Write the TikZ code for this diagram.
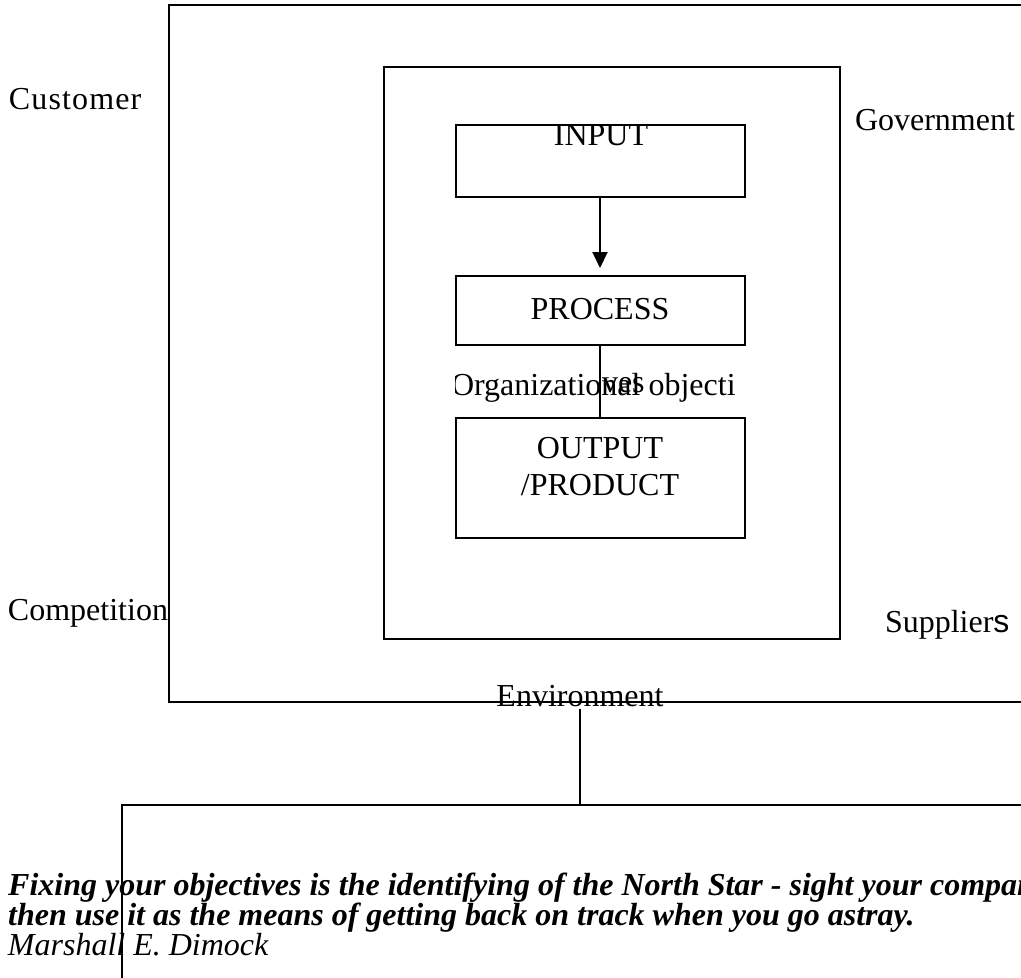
\documentclass[tikz,border=0pt]{standalone}
\usepackage{fontspec}
\setmainfont{Liberation Serif}
\newfontfamily\arialfont{Liberation Sans}
\usetikzlibrary{arrows.meta}
\begin{document}
\begin{tikzpicture}[x=1pt,y=-1pt,
  frame/.style={draw, line width=1.5pt, inner sep=0pt, outer sep=0pt, anchor=north west},
  stepbox/.style={draw, line width=2pt, inner sep=0pt, outer sep=0pt, anchor=north west,
                  minimum width=289pt},
  txt/.style={font=\fontsize{32}{37}\selectfont, inner sep=0pt, outer sep=0pt},
  lbl/.style={txt, anchor=base west},
  quote/.style={font=\fontsize{32}{36}\selectfont\bfseries\itshape, inner sep=0pt, anchor=base west},
  link/.style={line width=2pt},
]
\path[use as bounding box, clip] (0,0) rectangle (1021,978);

% environment frame, organisation frame and the three process steps
\node[frame, minimum width=900pt, minimum height=697pt] (env box) at (169,5) {};
\node[frame, line width=1.8pt, minimum width=456pt, minimum height=572pt] (org) at (384,67) {};
\node[stepbox, minimum height=72pt] (input) at (456,125) {};
\node[stepbox, minimum height=69pt] (process) at (456,276) {};
\node[stepbox, minimum height=120pt] (output) at (456,418) {};

% step texts
\node[txt, anchor=base] (input txt) at (601,145) {INPUT};
\node[txt, anchor=base] (process txt) at (600,319) {PROCESS};
\node[txt, anchor=base, align=center] (output txt) at (600,495) {OUTPUT\\/PRODUCT};

% connectors between the steps
\draw[link, -{Triangle[length=16pt, width=15pt]}, shorten >=8pt] (input.south -| 600,0) -- (process.north -| 600,0);
\draw[link] (process.south -| 600,0) -- (output.north -| 600,0);

% caption across the connector, cut at the box edge
\begin{scope}
  \clip (455,350) rectangle (800,410);
  \node[lbl] (objectives) at (451,395) {Organizational objecti};
\end{scope}
\node[lbl] (objectives tail) at (602,392) {ves};

% environment forces
\node[lbl] (customer) at (9,109) {\addfontfeatures{LetterSpace=3.5}Customer};
\node[lbl] (government) at (855,130) {Government};
\node[lbl] (competition) at (8,620) {Competition};
\node[lbl] (suppliers) at (885,632) {Supplier{\arialfont s}};
\node[txt, anchor=base] (environment) at (580,706) {Environment};

% quotation box
\node[frame, minimum width=950pt, minimum height=200pt] (quote box) at (122,805) {};
\draw[link, line width=1.8pt] ([yshift=-3pt]environment.south) -- (environment.south |- quote box.north);

\node[quote] (quote1) at (8,895) {Fixing your objectives is the identifying of the North Star - sight your company there and};
\node[quote] (quote2) at (8,925) {then use it as the means of getting back on track when you go astray.};
\node[txt, anchor=base west, font=\fontsize{32}{37}\selectfont\itshape] (author) at (8,955) {Marshall E. Dimock};
\end{tikzpicture}
\end{document}
